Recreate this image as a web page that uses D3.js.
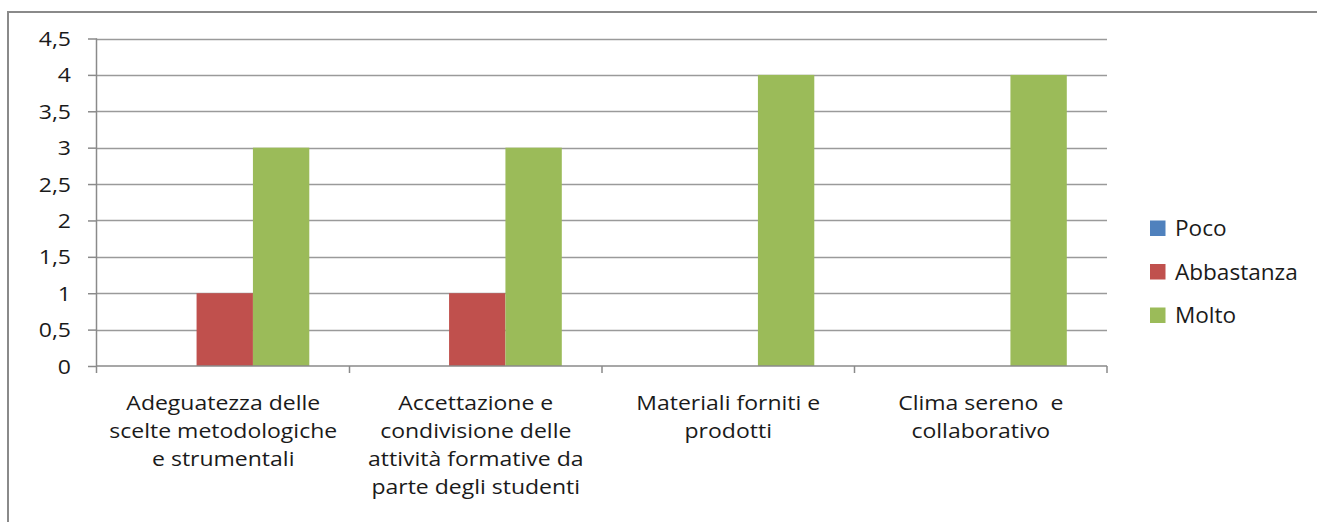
<!DOCTYPE html>
<html>
<head>
<meta charset="utf-8">
<script src="https://cdn.jsdelivr.net/npm/d3@7"></script>
<style>
  html, body { margin: 0; padding: 0; background: #fff; }
  svg { display: block; }
  text { font-family: "Open Sans", Lato, sans-serif; fill: #1a1a1a; white-space: pre; }
</style>
</head>
<body>
<svg id="chart" width="1317" height="522"></svg>
<script>
// Survey results: rating counts per aspect
const categories = [
  ["Adeguatezza delle", "scelte metodologiche", "e strumentali"],
  ["Accettazione e", "condivisione delle", "attività formative da", "parte degli studenti"],
  ["Materiali forniti e", "prodotti"],
  ["Clima sereno  e", "collaborativo"]
];
const seriesNames = ["Poco", "Abbastanza", "Molto"];
const seriesColors = ["#4F81BD", "#C0504D", "#9BBB59"];
const poco = [0, 0, 0, 0];
const abbastanza = [1, 1, 0, 0];
const molto = [3, 3, 4, 4];
const yTicks = [0, 0.5, 1, 1.5, 2, 2.5, 3, 3.5, 4, 4.5];

const seriesValues = [poco, abbastanza, molto];
const rows = categories.map((c, i) => ({
  key: i,
  lines: c,
  values: seriesNames.map((s, j) => ({ series: s, color: seriesColors[j], value: seriesValues[j][i] }))
}));

const svg = d3.select("#chart");
const plot = { left: 97, right: 1107, top: 38.5, bottom: 366 };
const stretch = 1.15;   // horizontal widening of the Calibri-like labels
const axisGray = "#8a8a8a";

// outer frame
svg.append("rect")
  .attr("x", 8).attr("y", 12)
  .attr("width", 1317).attr("height", 522)
  .attr("fill", "none").attr("stroke", axisGray).attr("stroke-width", 2);

const y = d3.scaleLinear().domain([0, 4.5]).range([plot.bottom, plot.top]);
const x0 = d3.scaleBand().domain(rows.map(r => r.key)).range([plot.left, plot.right]).paddingInner(0).paddingOuter(0);
const x1 = d3.scaleBand().domain(seriesNames).range([1.5, x0.bandwidth() + 1.5]).paddingInner(0).paddingOuter(0.74);

// horizontal gridlines
svg.append("g").selectAll("line").data(yTicks.filter(t => t > 0)).join("line")
  .attr("x1", plot.left).attr("x2", plot.right)
  .attr("y1", d => Math.round(y(d)) + 0.5).attr("y2", d => Math.round(y(d)) + 0.5)
  .attr("stroke", "#9a9a9a").attr("stroke-width", 1.3);

// bars
const groups = svg.append("g").selectAll("g").data(rows).join("g")
  .attr("transform", d => `translate(${x0(d.key)},0)`);
groups.selectAll("rect").data(d => d.values).join("rect")
  .attr("x", d => x1(d.series))
  .attr("width", x1.bandwidth())
  .attr("y", d => y(d.value))
  .attr("height", d => plot.bottom - y(d.value))
  .attr("fill", d => d.color);

// y axis
const yAxis = d3.axisLeft(y).tickValues(yTicks).tickSize(9).tickPadding(17)
  .tickFormat(d => String(d).replace(".", ","));
const gy = svg.append("g").attr("transform", `translate(${plot.left},0)`).call(yAxis);
gy.select(".domain").attr("d", `M-0.5,${plot.top}V${plot.bottom + 7}`).attr("stroke", axisGray).attr("stroke-width", 1.5);
gy.selectAll(".tick line").attr("stroke", axisGray).attr("stroke-width", 1.5);
gy.selectAll(".tick text")
  .attr("font-size", 19.5).attr("fill", "#1a1a1a").attr("font-family", "'Open Sans', sans-serif")
  .attr("x", 0).attr("dy", "0.36em")
  .attr("transform", `translate(-26,0) scale(${stretch + 0.03},1)`);

// x axis baseline and category separators
const gx = svg.append("g");
gx.append("line").attr("x1", plot.left).attr("x2", plot.right)
  .attr("y1", plot.bottom).attr("y2", plot.bottom)
  .attr("stroke", axisGray).attr("stroke-width", 1.5);
gx.selectAll("line.sep").data(rows).join("line").attr("class", "sep")
  .attr("x1", d => x0(d.key) + x0.bandwidth()).attr("x2", d => x0(d.key) + x0.bandwidth())
  .attr("y1", plot.bottom).attr("y2", plot.bottom + 7)
  .attr("stroke", axisGray).attr("stroke-width", 1.5);

// category labels
const labels = svg.append("g").selectAll("g").data(rows).join("g")
  .attr("transform", d => `translate(${x0(d.key) + x0.bandwidth() / 2},0) scale(${stretch},1)`);
labels.append("text")
  .attr("text-anchor", "middle").attr("font-size", 20)
  .selectAll("tspan").data(d => d.lines).join("tspan")
  .attr("x", 0)
  .attr("y", (d, i) => 410 + i * 28)
  .text(d => d);

// legend
const legend = svg.append("g").selectAll("g").data(seriesNames).join("g")
  .attr("transform", (d, i) => `translate(1150,${228 + i * 43.5})`);
legend.append("rect").attr("x", 0).attr("y", -7.5).attr("width", 15.5).attr("height", 15.5)
  .attr("fill", (d, i) => seriesColors[i]);
legend.append("text")
  .attr("transform", "translate(25,8) scale(1.05,1)")
  .attr("font-size", 21.5).text(d => d);
</script>
</body>
</html>
